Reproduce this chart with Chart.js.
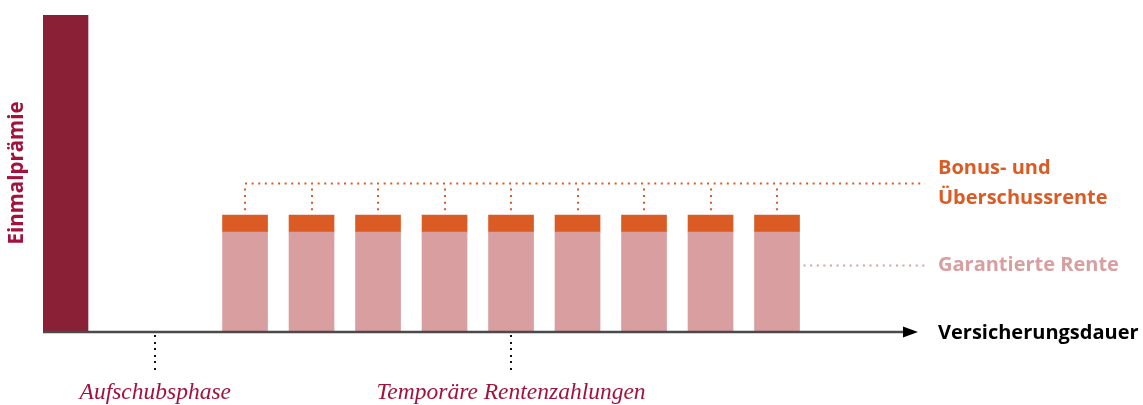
<!DOCTYPE html>
<html><head><meta charset="utf-8">
<script src="https://cdn.jsdelivr.net/npm/chart.js@4.4.1/dist/chart.umd.min.js"></script>
<style>html,body{margin:0;padding:0;background:#fff}#wrap{width:1143px;height:405px;position:relative}</style>
</head><body><div id="wrap"><canvas id="c"></canvas></div>
<script>
// ---- data ----
const premiumLabel = 'Einmalprämie';
const premiumPosition = [0];
const premiumValue = [100];
const payoutPositions = [2.7, 3.7, 4.7, 5.7, 6.7, 7.7, 8.7, 9.7, 10.7];
const guaranteedValues = [31.5, 31.5, 31.5, 31.5, 31.5, 31.5, 31.5, 31.5, 31.5];
const bonusValues = [5.4, 5.4, 5.4, 5.4, 5.4, 5.4, 5.4, 5.4, 5.4];
const bonusLineLevel = 47;
const guaranteedLineLevel = 21;
const phaseLabels = ['Aufschubsphase', 'Temporäre Rentenzahlungen'];
const seriesLabels = ['Bonus- und', 'Überschussrente', 'Garantierte Rente'];
const axisLabel = 'Versicherungsdauer';

const C_PREM = '#8a2035', C_PINK = '#d89ea0', C_ORANGE = '#db5b24', C_CRIMSON = '#a2123d';
const SANS = '"Open Sans", "Lato", sans-serif';
const SERIF = '"Liberation Serif", serif';

const overlay = {
  id: 'overlay',
  afterDatasetsDraw(chart) {
    const ctx = chart.ctx, x = chart.scales.x, y = chart.scales.y, ca = chart.chartArea;
    const y0 = y.getPixelForValue(0);
    ctx.save();
    // dotted orange line + verticals
    ctx.strokeStyle = C_ORANGE; ctx.lineWidth = 2; ctx.setLineDash([2, 4.6]);
    const yb = Math.round(y.getPixelForValue(bonusLineLevel)) + 0.5;
    const xFirst = x.getPixelForValue(payoutPositions[0]);
    ctx.beginPath(); ctx.moveTo(xFirst, yb); ctx.lineTo(925, yb); ctx.stroke();
    payoutPositions.forEach((p, i) => {
      const px = Math.round(x.getPixelForValue(p));
      const top = y.getPixelForValue(guaranteedValues[i] + bonusValues[i]);
      ctx.beginPath(); ctx.moveTo(px, yb + 5); ctx.lineTo(px, top - 1); ctx.stroke();
    });
    // dotted pink line
    ctx.strokeStyle = C_PINK;
    const yg = Math.round(y.getPixelForValue(guaranteedLineLevel)) + 0.5;
    const lastX = x.getPixelForValue(payoutPositions[payoutPositions.length - 1]) + 22.5;
    ctx.beginPath(); ctx.moveTo(lastX + 4, yg); ctx.lineTo(925, yg); ctx.stroke();
    // axis
    ctx.setLineDash([]);
    ctx.strokeStyle = '#4a4a4a'; ctx.lineWidth = 2.5;
    ctx.beginPath(); ctx.moveTo(ca.left, y0); ctx.lineTo(906, y0); ctx.stroke();
    ctx.fillStyle = '#000';
    ctx.beginPath(); ctx.moveTo(903, y0 - 5.5); ctx.lineTo(918, y0); ctx.lineTo(903, y0 + 5.5); ctx.closePath(); ctx.fill();
    // phase dotted verticals
    const phaseX = [ (x.getPixelForValue(premiumPosition[0]) + x.getPixelForValue(payoutPositions[0])) / 2,
                     x.getPixelForValue(payoutPositions[4]) ];
    ctx.fillStyle = '#111';
    phaseX.forEach(px => {
      for (let yy = y0 + 3; yy <= 372; yy += 6.5) { ctx.fillRect(Math.round(px) - 1, Math.round(yy), 2, 2); }
    });
    // phase labels
    ctx.fillStyle = C_CRIMSON; ctx.textAlign = 'center'; ctx.textBaseline = 'alphabetic';
    ctx.font = 'italic 23.5px ' + SERIF;
    phaseLabels.forEach((t, i) => ctx.fillText(t, phaseX[i], 399));
    // right labels
    ctx.textAlign = 'left'; ctx.textBaseline = 'middle';
    ctx.font = 'bold 20px ' + SANS;
    ctx.fillStyle = C_ORANGE;
    ctx.fillText(seriesLabels[0], 938, 168);
    ctx.fillText(seriesLabels[1], 938, 198);
    ctx.fillStyle = C_PINK;
    ctx.fillText(seriesLabels[2], 938, 265);
    ctx.fillStyle = '#000';
    ctx.fillText(axisLabel, 938, 333);
    // rotated label
    ctx.save();
    ctx.translate(17, 173); ctx.rotate(-Math.PI / 2);
    ctx.textAlign = 'center'; ctx.fillStyle = C_CRIMSON;
    ctx.font = 'bold 20.5px ' + SANS;
    ctx.fillText(premiumLabel, 0, 0);
    ctx.restore();
    ctx.restore();
  }
};

new Chart(document.getElementById('c'), {
  type: 'bar',
  data: {
    datasets: [
      { label: premiumLabel, data: premiumPosition.map((p, i) => ({x: p, y: premiumValue[i]})), backgroundColor: C_PREM, stack: 's' },
      { label: 'Garantierte Rente', data: payoutPositions.map((p, i) => ({x: p, y: guaranteedValues[i]})), backgroundColor: C_PINK, stack: 's' },
      { label: 'Bonus- und Überschussrente', data: payoutPositions.map((p, i) => ({x: p, y: bonusValues[i]})), backgroundColor: C_ORANGE, stack: 's' }
    ]
  },
  options: {
    responsive: true, maintainAspectRatio: false, animation: false,
    layout: { padding: { left: 43, right: 227, top: 15, bottom: 73 } },
    datasets: { bar: { barThickness: 45, borderWidth: 0 } },
    scales: {
      x: { type: 'linear', min: -0.3383, max: 12.79, stacked: true, display: false, offset: false },
      y: { min: 0, max: 100, stacked: true, display: false }
    },
    plugins: { legend: { display: false }, tooltip: { enabled: false } }
  },
  plugins: [overlay]
});
</script></body></html>
